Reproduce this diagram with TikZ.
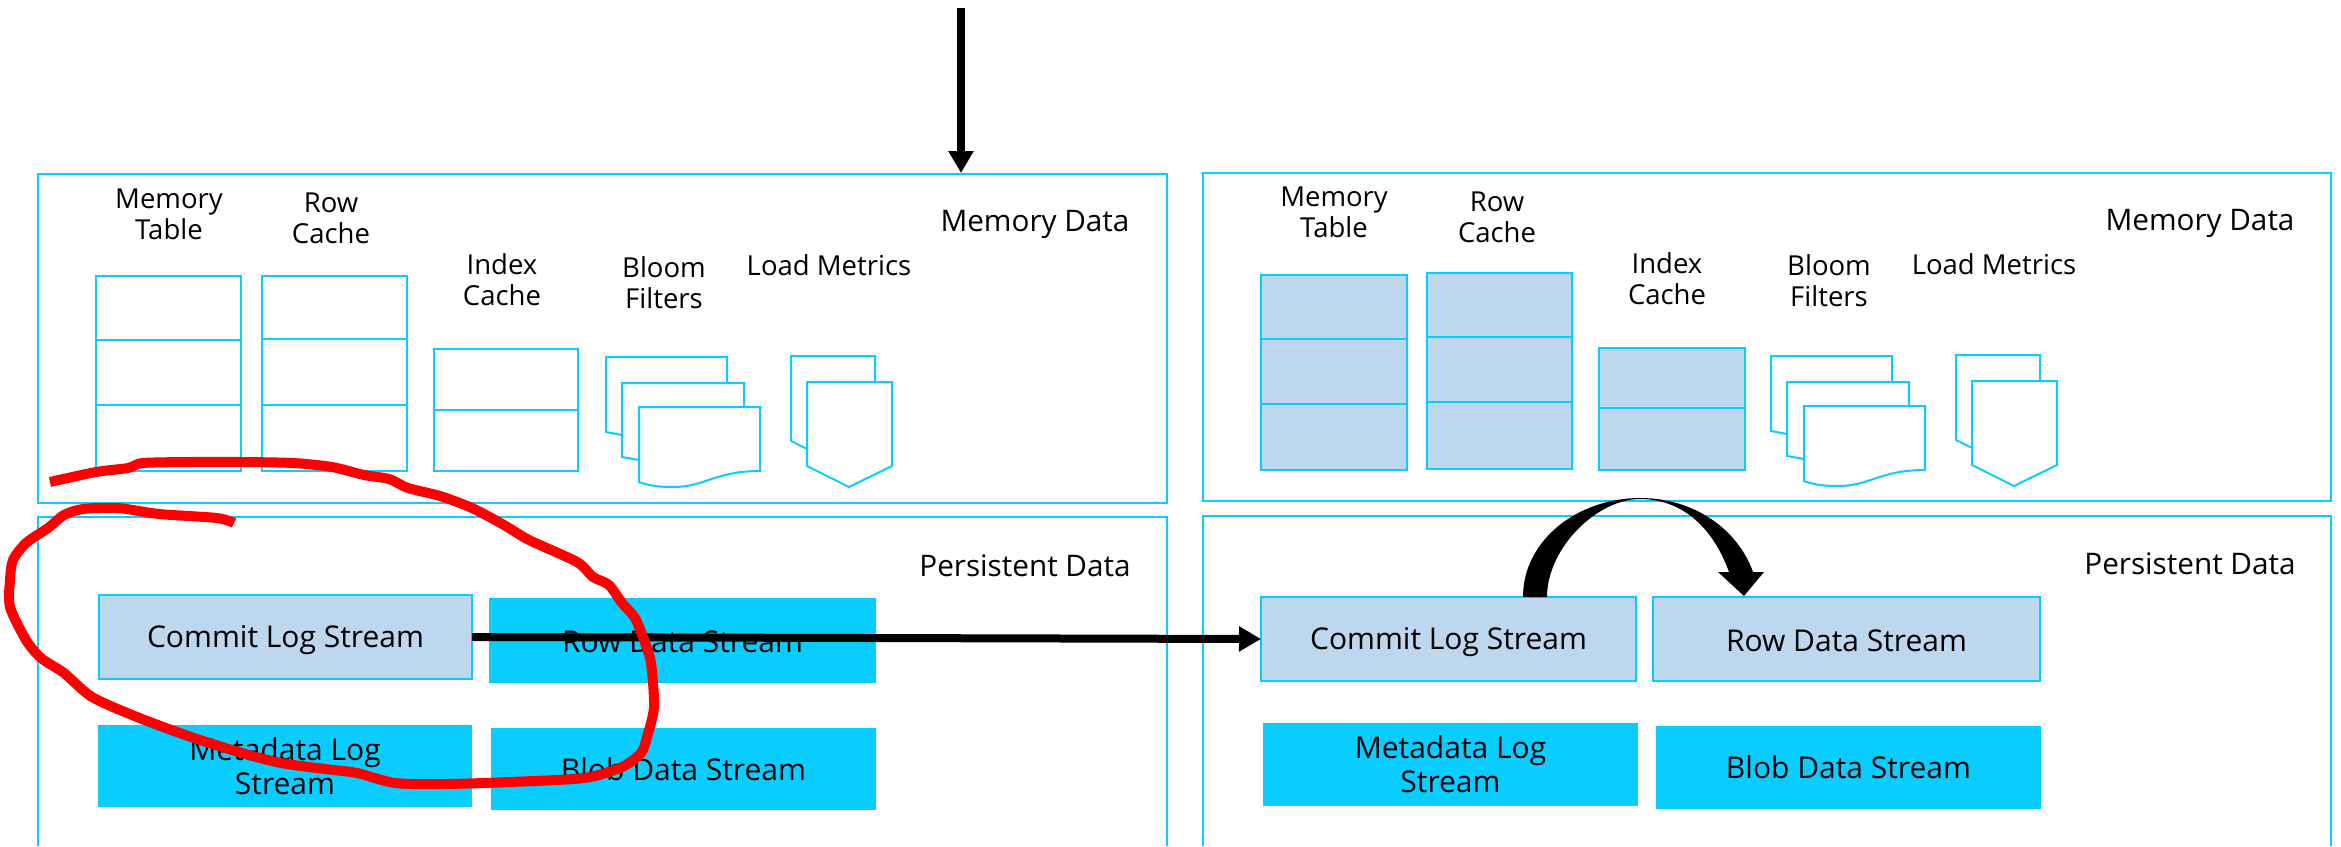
\documentclass[tikz,border=0pt]{standalone}
\usepackage{fontspec}
\setmainfont{Open Sans}
\usetikzlibrary{calc,arrows.meta}
\definecolor{cy}{HTML}{0ACDFF}
\definecolor{lb}{HTML}{BDD7EE}
\tikzset{
  frame/.style={draw=cy,line width=2pt},
  cell/.style={draw=cy,line width=2pt,fill=white},
  cellb/.style={draw=cy,line width=2.5pt,fill=lb},
  lbl/.style={font=\fontsize{27.5}{31}\selectfont,align=center,inner sep=0pt,text=black},
  slbl/.style={font=\fontsize{29.7}{34}\selectfont,align=center,inner sep=0pt,text=black},
  boxed/.style={rectangle,inner sep=0pt,outer sep=0pt,font=\fontsize{30}{34}\selectfont,align=center,text=black},
  solid box/.style={boxed,fill=cy},
  pale box/.style={boxed,fill=lb,draw=cy,line width=2pt},
  blackarrow/.style={draw=black,line width=8pt,-{Triangle[length=22pt,width=24pt]}},
  redink/.style={draw=red,line width=10pt,line join=round},
}
% name, x0,y0,x1,y1,style,text
\newcommand{\bx}[7]{\node[#6,minimum width=#4pt-#2pt,minimum height=#5pt-#3pt,anchor=north west] (#1) at (#2,#3) {#7};}
% lowers a line of text inside its centred node
\newcommand{\lowered}[2]{\raisebox{0pt}[\dimexpr\height+#1\relax][\depth]{#2}}
\newcommand{\pages}{%
  \draw[cell] (606,357)--(727,357)--(727,440)--(622,435)--(606,432)--cycle;
  \draw[cell] (622,383)--(744,383)--(744,465)--(639,460)--(622,457)--cycle;
  \draw[cell] (639,407)--(760,407)--(760,471) .. controls (715,471) and (705,487) .. (673,487) .. controls (660,487) and (650,486) .. (639,482)--cycle;
  \draw[cell] (791,356)--(875,356)--(875,460)--(807,449)--(791,441)--cycle;
  \draw[cell] (807,382)--(892,382)--(892,466)--(849,487)--(807,466)--cycle;
}
\begin{document}
\begin{tikzpicture}[x=1pt,y=-1pt]
\useasboundingbox (0,0) rectangle (2341,846);
% frames
\draw[frame] (38,174) rectangle (1167,503);
\draw[frame] (38,846)--(38,517)--(1167,517)--(1167,846);
\draw[frame] (1203,173) rectangle (2331,501);
\draw[frame] (1203,846)--(1203,516)--(2331,516)--(2331,846);
% left memory
\draw[cell] (96,276) rectangle (241,471);
\draw[cell] (96,340)--(241,340) (96,405)--(241,405);
\draw[cell] (262,276) rectangle (407,471);
\draw[cell] (262,339)--(407,339) (262,405)--(407,405);
\draw[cell] (434,349) rectangle (578,471);
\draw[cell] (434,410)--(578,410);
\pages
\node[lbl] (lmt) at (169,214.5) {Memory\\Table};
\node[lbl] (lrc) at (331,218) {Row\\Cache};
\node[lbl] (lic) at (502,279.5) {Index\\Cache};
\node[lbl] (lbf) at (664,282.5) {Bloom\\Filters};
\node[lbl] (llm) at (829,265) {Load Metrics};
\node[slbl] (lmd) at (1035,224) {Memory Data};
\node[slbl] (lpd) at (1025,565.5) {Persistent Data};
% left persistent
\bx{lcl}{99}{595}{472}{679}{pale box}{\lowered{6pt}{Commit Log Stream}}
\bx{lrd}{489}{598}{876}{683}{solid box}{\lowered{3pt}{Row Data Stream}}
\bx{lml}{98}{725}{472}{807}{solid box}{Metadata Log\\Stream}
\bx{lbd}{491}{728}{876}{810}{solid box}{Blob Data Stream}
% right memory
\draw[cellb] (1261,275) rectangle (1407,470);
\draw[cellb] (1261,339)--(1407,339) (1261,404)--(1407,404);
\draw[cellb] (1427,273) rectangle (1572,469);
\draw[cellb] (1427,337)--(1572,337) (1427,402)--(1572,402);
\draw[cellb] (1599,348) rectangle (1745,470);
\draw[cellb] (1599,408)--(1745,408);
\begin{scope}[yshift=1pt,xshift=1165pt]
\pages
\node[lbl] (rbf) at (664,281.5) {Bloom\\Filters};
\node[lbl] (rlm) at (829,265) {Load Metrics};
\node[slbl] (rmd) at (1035,224) {Memory Data};
\node[slbl] (rpd) at (1025,565) {Persistent Data};
\end{scope}
\node[lbl] (rmt) at (1334,212.5) {Memory\\Table};
\node[lbl] (rrc) at (1497,217) {Row\\Cache};
\node[lbl] (ric) at (1667,278.5) {Index\\Cache};
% right persistent
\bx{rcl}{1261}{597}{1636}{681}{pale box}{\lowered{7pt}{Commit Log Stream}}
\bx{rrd}{1653}{597}{2040}{681}{pale box}{\lowered{3pt}{Row Data Stream}}
\bx{rml}{1263}{723}{1638}{806}{solid box}{Metadata Log\\Stream}
\bx{rbd}{1656}{726}{2041}{809}{solid box}{Blob Data Stream}
% arrows
\coordinate (topstart) at (961,8);
\coordinate (memtop) at (961,173);
\draw[blackarrow] (topstart) -- (memtop);
\draw[blackarrow] (lcl.east) -- (rcl.west);
% curved block arrow
\fill[black] ($(rcl.north west)+(262,0)$)
  .. controls (1523,540) and (1578,498) .. (1640,498)
  .. controls (1695,498) and (1738,530) .. (1753,572)
  -- (1764,572) -- ($(rrd.north west)+(91,-1)$) -- (1718,572) -- (1729,572)
  .. controls (1712,525) and (1680,499) .. (1640,499)
  .. controls (1597,499) and (1547,548) .. ($(rcl.north west)+(286,0)$) -- cycle;
% red ink
\draw[redink] plot[smooth,tension=0.45] coordinates {
 (50,482) (96,472) (128,468) (143,463) (191,462) (242,462) (293,463) (332,467) (364,475)
 (389,479) (408,488) (440,496) (472,508) (504,525) (529,540) (577,562) (593,577) (609,585)
 (622,603) (635,618) (644,640) (651,663) (654,707) (647,737) (641,753) (622,767) (584,778)
 (510,782) (446,784) (395,783) (357,773) (325,769) (281,763) (242,753) (191,737) (137,717)
 (92,697) (64,673) (41,658) (26,640) (10,607) (10,580) (13,560) (26,543) (48,528) (64,515)
 (83,509) (118,508) (159,514) (217,518) (234,523)};
\end{tikzpicture}
\end{document}
